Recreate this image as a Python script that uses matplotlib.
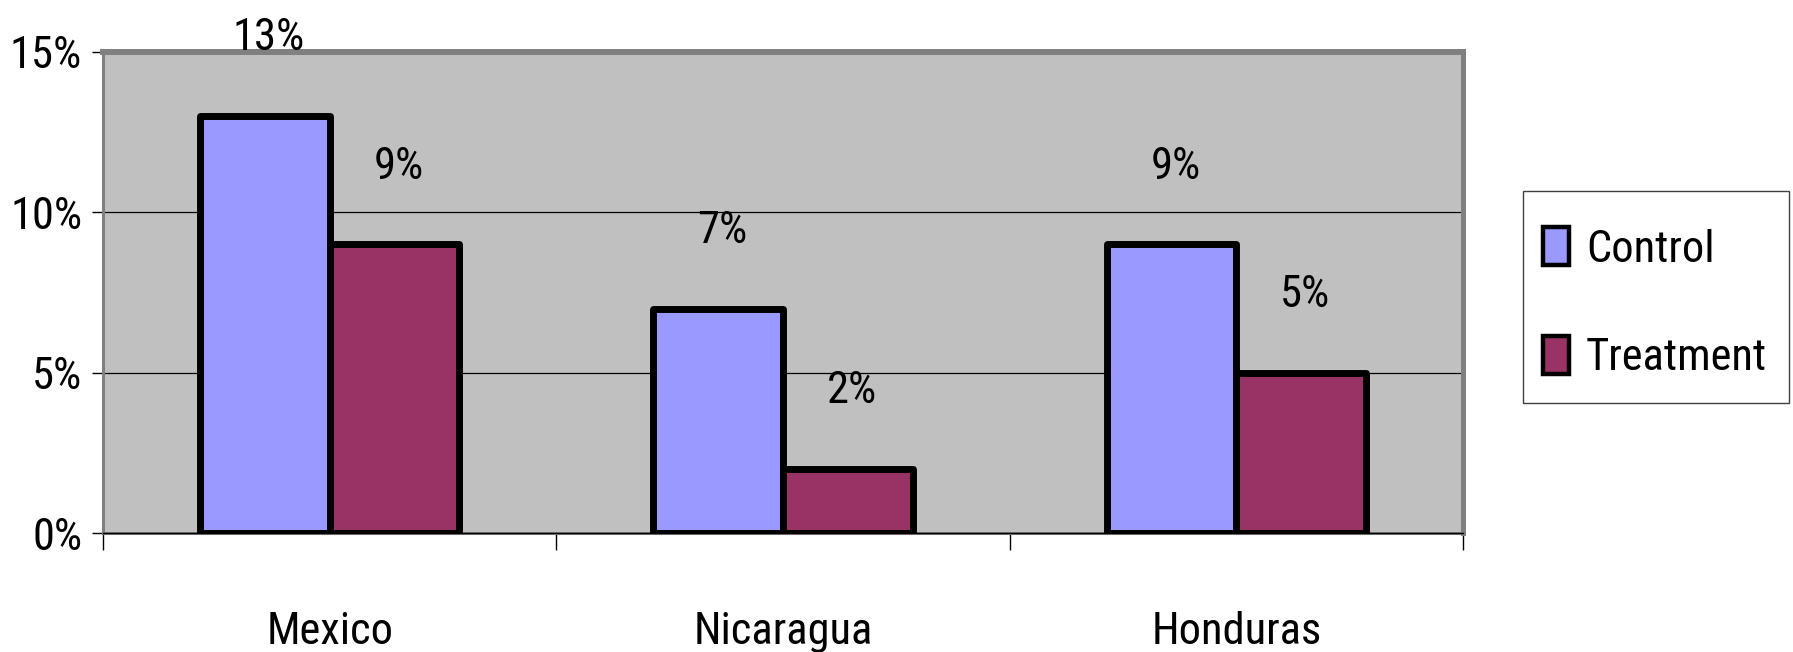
import matplotlib
matplotlib.use("Agg")
import matplotlib.pyplot as plt
from matplotlib.patches import Patch, Rectangle
from matplotlib import font_manager
from matplotlib.font_manager import FontProperties
import numpy as np

# Data
countries = ["Mexico", "Nicaragua", "Honduras"]
control = [13, 7, 9]
treatment = [9, 2, 5]
series_names = ["Control", "Treatment"]
y_ticks = [0, 5, 10, 15]
y_tick_labels = ["0%", "5%", "10%", "15%"]


def pick_narrow_font():
    """Return (path, size) for a narrow sans face, falling back to Liberation Sans."""
    entries = font_manager.fontManager.ttflist
    prefs = ["LiberationSansNarrow-Regular", "RobotoCondensed-Regular",
             "OpenSansCondensed", "DejaVuSansCondensed.ttf"]
    for key in prefs:
        for f in entries:
            if key.lower() in f.fname.lower().replace(" ", ""):
                if "bold" in f.fname.lower() or "italic" in f.fname.lower():
                    continue
                return f.fname, (32 if "Narrow" in key or "Roboto" in key or "OpenSans" in key else 27)
    for f in entries:
        n = f.name.lower()
        if ("narrow" in n or "condensed" in n) and f.weight in (400, "normal", "regular") \
                and f.style == "normal":
            return f.fname, 32
    return font_manager.findfont(FontProperties(family="Liberation Sans")), 27


FONT_PATH, FS = pick_narrow_font()
fp = FontProperties(fname=FONT_PATH, size=FS)

CONTROL_C = "#9999FF"
TREAT_C = "#993366"
PLOT_BG = "#C0C0C0"
FRAME_C = "#808080"

W, H = 1793, 652
fig = plt.figure(figsize=(W / 100, H / 100), dpi=100)
ax = fig.add_axes([103 / W, 119 / H, 1360 / W, 481 / H])
ax.set_facecolor(PLOT_BG)

x = np.arange(len(countries))
w = 1 / 3.5
bars_c = ax.bar(x - w / 2, control, width=w, color=CONTROL_C, edgecolor="black",
                linewidth=5, joinstyle="round", zorder=3)
bars_t = ax.bar(x + w / 2, treatment, width=w, color=TREAT_C, edgecolor="black",
                linewidth=5, joinstyle="round", zorder=3)

ax.set_xlim(-0.5, len(countries) - 0.5)
ax.set_ylim(0, 15)

# Value labels above each bar
for bars, vals in ((bars_c, control), (bars_t, treatment)):
    for b, v in zip(bars, vals):
        ax.annotate(f"{v}%", (b.get_x() + b.get_width() / 2, v),
                    xytext=(3, 56), textcoords="offset points",
                    ha="center", va="center", fontproperties=fp, zorder=5,
                    annotation_clip=False)

# Y axis
ax.set_yticks(y_ticks)
ax.set_yticklabels(y_tick_labels)
ax.tick_params(axis="y", direction="out", length=8, width=1, color="black", pad=7)
ax.yaxis.grid(True, color="black", linewidth=0.9, zorder=1)
ax.set_axisbelow(True)

# Category axis: ticks at boundaries, labels at centres
ax.set_xticks(np.arange(len(countries) + 1) - 0.5)
ax.set_xticklabels([""] * (len(countries) + 1))
ax.tick_params(axis="x", which="major", direction="out", length=12, width=1, color="black")
ax.set_xticks(x, minor=True)
ax.set_xticklabels(countries, minor=True)
ax.tick_params(axis="x", which="minor", length=0, pad=56)

for lab in ax.get_yticklabels() + ax.get_xticklabels(minor=True):
    lab.set_fontproperties(fp)

# Plot-area frame
for side, lw in (("top", 4.3), ("right", 3.6), ("left", 2.2), ("bottom", 2.2)):
    ax.spines[side].set_color(FRAME_C)
    ax.spines[side].set_linewidth(lw)
ax.axhline(0, color="black", linewidth=1, zorder=4, clip_on=False)

# Legend: entries plus a separately drawn box
em = FS * 100 / 72
handles = [Patch(facecolor=CONTROL_C, edgecolor="black", linewidth=3.2, joinstyle="round"),
           Patch(facecolor=TREAT_C, edgecolor="black", linewidth=3.2, joinstyle="round")]
fig.legend(handles, series_names, loc="center left",
           bbox_to_anchor=(1543 / W, 1 - 303 / H), borderaxespad=0, borderpad=0,
           prop=fp, frameon=False,
           handlelength=26 / em, handleheight=42 / em, handletextpad=17 / em,
           labelspacing=(108 - 43) / em)
fig.patches.append(Rectangle((1523 / W, 1 - 403 / H), 266 / W, 212 / H,
                             transform=fig.transFigure, fill=False,
                             edgecolor="#404040", linewidth=1))

fig.savefig("out.png", dpi=100, facecolor="white")
